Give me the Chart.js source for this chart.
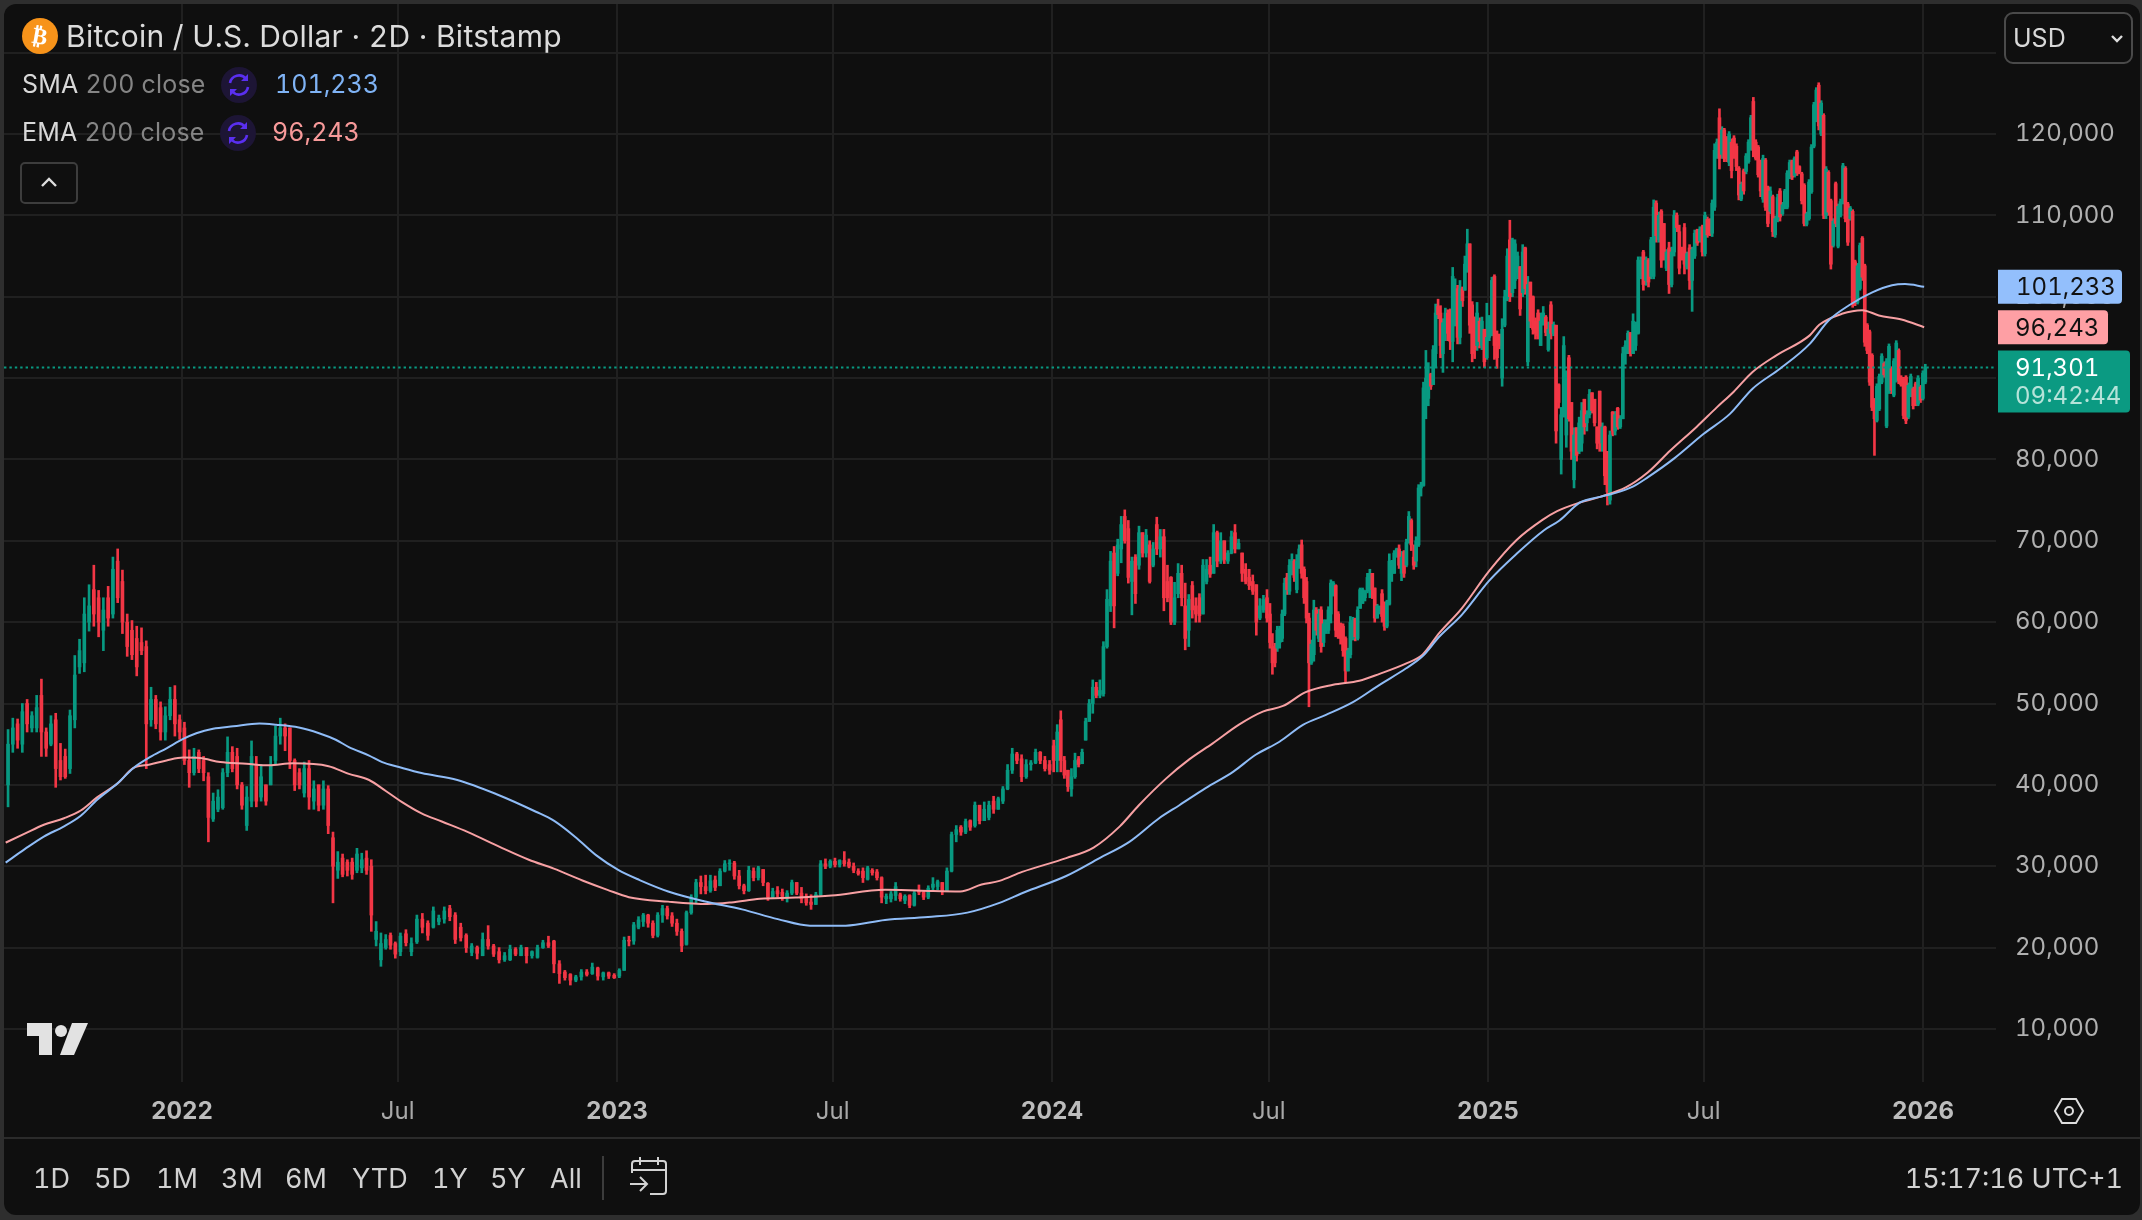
<!DOCTYPE html>
<html>
<head>
<meta charset="utf-8">
<title>Bitcoin / U.S. Dollar</title>
<script src="https://cdn.jsdelivr.net/npm/chart.js@4"></script>
<style>
  html, body { margin: 0; padding: 0; width: 2142px; height: 1220px; overflow: hidden; background: #2e2e2e; font-family: Inter, sans-serif; font-variant-numeric: tabular-nums; }
  #panel { position: absolute; left: 4px; top: 4px; width: 2136px; height: 1211px; background: #0f0f0f; border-radius: 12px; }
  #chart { position: absolute; left: 0; top: 0; }
  .txt { position: absolute; white-space: nowrap; line-height: 1; }
  .title { left: 66px; top: 21px; font-size: 30px; color: #dcdcdc; letter-spacing: 0.27px; }
  .row { left: 22px; font-size: 25px; color: #d8d8d8; letter-spacing: 0.2px; }
  .row span { color: #858585; }
  .val { font-size: 25px; }
  .range { top: 1165px; font-size: 27px; color: #d2d2d2; }
  .ico { position: absolute; }
  #divider { position: absolute; left: 4px; top: 1137px; width: 2136px; height: 2px; background: #2b2b2b; }
  #sep { position: absolute; left: 602px; top: 1156px; width: 2px; height: 44px; background: #3c3c3c; }
</style>
</head>
<body>
<div id="panel"></div>
<canvas id="chart" width="2142" height="1220"></canvas>
<div id="divider"></div>
<div id="sep"></div>

<svg class="ico" style="left:22px;top:18px" width="36" height="36" viewBox="0 0 36 36"><circle cx="18" cy="18" r="18" fill="#f7931a"/><text x="18" y="26" text-anchor="middle" font-family="DejaVu Sans" font-weight="bold" font-size="23" fill="#fff" transform="rotate(10 18 18)">₿</text></svg>
<div class="txt title">Bitcoin / U.S. Dollar · 2D · Bitstamp</div>

<div class="txt row" style="top:72px">SMA <span>200 close</span></div>
<svg class="ico" style="left:221px;top:67px" width="36" height="36" viewBox="0 0 36 36"><circle cx="18" cy="18" r="18" fill="#1d1535"/><path d="M9 16a9 9 0 0 1 16-4M27 20a9 9 0 0 1-16 4" fill="none" stroke="#5a2ff0" stroke-width="2.6"/><path d="M27 7v7h-7zM9 29v-7h7z" fill="#5a2ff0"/></svg>
<div class="txt val" style="left:275px;top:72px;color:#7fb3f5">101,233</div>

<div class="txt row" style="top:120px">EMA <span>200 close</span></div>
<svg class="ico" style="left:220px;top:115px" width="36" height="36" viewBox="0 0 36 36"><circle cx="18" cy="18" r="18" fill="#1d1535"/><path d="M9 16a9 9 0 0 1 16-4M27 20a9 9 0 0 1-16 4" fill="none" stroke="#5a2ff0" stroke-width="2.6"/><path d="M27 7v7h-7zM9 29v-7h7z" fill="#5a2ff0"/></svg>
<div class="txt val" style="left:272px;top:120px;color:#f89a9a">96,243</div>

<svg class="ico" style="left:20px;top:162px" width="58" height="42" viewBox="0 0 58 42"><rect x="1" y="1" width="56" height="40" rx="4" fill="none" stroke="#3d3d3d" stroke-width="2"/><path d="M22 24l7-7 7 7" fill="none" stroke="#ddd" stroke-width="2.4"/></svg>

<svg class="ico" style="left:2004px;top:12px" width="130" height="52" viewBox="0 0 130 52"><rect x="1" y="1" width="127" height="50" rx="8" fill="#0f0f0f" stroke="#4a4a4a" stroke-width="2"/><path d="M108 24l5 5 5-5" fill="none" stroke="#ddd" stroke-width="2.4"/></svg>
<div class="txt" style="left:2013px;top:26px;font-size:25px;color:#d8d8d8">USD</div>

<svg class="ico" style="left:27px;top:1023px" width="61" height="32" viewBox="0 0 61 32"><path d="M0 0h25v32H12V13H0z" fill="#e2e2e2"/><circle cx="34" cy="8" r="6" fill="#e2e2e2"/><path d="M45 0h16L47 32H33z" fill="#e2e2e2"/></svg>
<svg class="ico" style="left:2053px;top:1097px" width="32" height="28" viewBox="0 0 32 28"><path d="M9 2h14l7 12-7 12H9L2 14z" fill="none" stroke="#dedede" stroke-width="2"/><circle cx="16" cy="14" r="4" fill="none" stroke="#dedede" stroke-width="2"/></svg>

<div class="txt range" style="left:33px">1D</div>
<div class="txt range" style="left:94px">5D</div>
<div class="txt range" style="left:156px">1M</div>
<div class="txt range" style="left:221px">3M</div>
<div class="txt range" style="left:285px">6M</div>
<div class="txt range" style="left:352px">YTD</div>
<div class="txt range" style="left:432px">1Y</div>
<div class="txt range" style="left:490px">5Y</div>
<div class="txt range" style="left:550px">All</div>
<svg class="ico" style="left:629px;top:1157px" width="40" height="38" viewBox="0 0 40 38"><path d="M3 16V7q0-3 3-3h28q3 0 3 3v27q0 3-3 3H21M3 13h34M11 0v8M29 0v8M1 27h17M11 20l7 7-7 7" fill="none" stroke="#d2d2d2" stroke-width="2"/></svg>
<div class="txt range" style="right:19px">15:17:16 UTC+1</div>

<script>
// values are in thousands of USD, x values are days since 2022-01-01

// [open, high, low, close], one list per half year
const candles2021H2 = [
  [40,46.8,37.3,45],[45,48.2,44,47],[47.5,48.1,44.5,45.5],[45,50,44,49],[50,50.5,46.5,47.5],[47,49,46.5,48.5],
  [47,51,46.5,49.5],[51,53,43.5,46.5],[46.5,47,43.5,44.5],[45,48.5,44.8,47.5],[48,48.8,39.7,42],[43,45.1,40.6,41],
  [43.5,44.4,40.8,41],[42,49.2,41.4,48.5],[48,55.9,47,53.5],[54.5,57.9,53.7,56.5],[55,63,53.9,61],[60,64.6,58.9,62],
  [64,67,59.5,61],[63,63.9,58.2,60],[59,63,56.5,61.5],[63,64.4,59.5,60.5],[61,68,60.5,66.5],[67.5,69,62.4,63],
  [65,66.4,58.6,60],[60,61,55.8,57],[59,60.2,55.4,56],[58,59.5,53.4,54.5],[57.5,59.3,56,56.5],[57,57.7,42,47.5],
  [48,52,47.2,50.5],[50.5,51,46.9,47.5],[49.5,50.2,45.5,46.5],[46.5,49.6,45.5,48.5],[48.5,52,48,50.5],[50.5,52.2,46,47.5],
  [48,48.6,45.6,46.5]
];
const candles2022H1 = [
  [47,47.7,42.5,43],[43,44.3,39.7,41.5],[41.5,44.5,41.2,43.5],[44,44.3,41.5,42],[43,43.5,40.5,41.5],[41,41.5,33,36],
  [35.8,39,35.5,38],[37,39.4,36.7,38.5],[37.2,42,37,41.5],[41.5,45.9,41,44],[44,44.7,41.6,42],[43.5,44.5,39.5,40],
  [40,40.3,37,37.5],[35,39.8,34.4,38.5],[38,45.4,37.3,43.5],[42.5,43.5,37.3,38],[38.5,42.5,38,41],[40,40,37.5,38],
  [40,43.5,40,42.5],[43,47.2,42.5,46],[46,48.2,45,47],[47,47.5,44.2,46],[47,47,42,43],[43,43.2,39.3,40],
  [41.5,42,39.5,40],[39,42.8,38.5,42],[42,43,37,38.5],[38,40.5,37,39.5],[40,40,36.8,37.5],[37.5,40.5,37,39.5],
  [39.5,39.9,34,35],[33.5,34.2,25.5,30],[29.5,31.8,28.5,30.5],[31,31.5,28.7,29],[30.5,30.8,28.8,29.5],[30.5,31,28.4,29],
  [29.5,32.2,29.2,31.5],[29.8,31.6,29.2,30.8],[31,31.9,29,29.5],[30,30.8,22,24],[21,23.2,20.2,22],[18.5,21.8,17.7,20.5],
  [20,21.6,19.8,21],[21.5,21.8,19.8,20.3],[20.5,20.7,18.7,19.2]
];
const candles2022H2 = [
  [19.5,21.8,19,21.4],[21.7,22.2,20.2,20.6],[19.5,21.2,19,20.5],[20.7,24,20.5,23.5],[23.5,24.2,21.8,22.5],[23,23.3,20.9,21.5],
  [22.5,25,22.4,24.5],[23.2,24,22.8,23.6],[23.5,25,23,24.5],[24.8,25.2,23.3,23.8],[24,24.3,20.5,21],[22.5,23,20.8,21.2],
  [21.5,21.7,19.4,20],[19.4,20.5,19,20.2],[20,20.2,18.6,19.3],[19,21.8,19,21],[21,22.7,19.8,20.2],[20.2,20.4,18.9,19.2],
  [19.5,20,18.1,18.5],[18.5,19.4,18.3,19],[18.5,20.3,18.4,19.8],[19.8,20,19,19.2],[19,20.3,19,20],[20,20,18.1,19],
  [19,19.6,18.7,19.5],[18.8,20.3,18.7,20],[20,20.9,19.9,20.6],[20.6,21.4,20,20.2],[20.8,20.9,16.9,18],[18,18.4,15.6,16.8],
  [17,17.2,16,16.3],[16.7,16.8,15.4,16],[16,16.6,15.8,16.4],[16.4,17.3,16,17],[17,17.3,16.5,16.7],[16.8,18.1,16.7,17.6],
  [17.5,17.6,16,16.5],[16.4,17,16,16.9],[16.9,17,16.2,16.5],[16.6,16.8,16.2,16.3]
];
const candles2023H1 = [
  [16.5,17.4,16.3,17.2],[17.2,21.3,17.2,20.9],[20.9,21.4,20.2,20.8],[20.8,23.1,20.4,22.8],[22.5,23.8,22.3,23.4],[23.2,24.2,22.6,24],
  [24,24.1,22.5,23],[23,23.3,21.2,21.5],[21.5,24.3,21.3,24],[24,25.2,23.1,24.8],[24.8,25.1,23.5,23.9],[23.9,24.3,22.6,23],
  [23,23.5,21.5,22],[22,22.3,19.5,20.2],[20.4,24.5,20.3,24.3],[24.3,26.5,24.1,26.2],[26.2,28.4,25.4,28],[28,28.8,26.6,27.5],
  [27.5,28.9,26.6,27],[27,28.9,26.8,28.2],[28.3,28.8,27,27.4],[27.6,29.7,27.6,29.4],[29.4,30.7,29.3,30.3],[30.3,30.8,29.5,30.4],
  [30.4,30.6,28.4,28.8],[28.8,29.5,27.2,27.6],[27.6,27.8,26.6,27],[27,30,26.9,29.5],[29.4,29.8,28.2,28.6],[28.6,30,28.3,29.8],
  [29.6,29.6,27.6,28],[27.9,28,25.8,26.2],[26.2,27.3,26.1,26.9],[27,27.5,26.2,26.6],[26.8,27.2,25.8,26.3],[26.1,27,25.6,26.7],
  [26.7,28.3,26.5,28],[28,28,26.5,26.7],[26.7,27.4,25.5,26],[26.2,26.6,25.2,25.5],[25.6,26.5,24.7,25.3],[25.3,26.8,25.3,26.5],
  [26.5,30.7,26.4,30.3],[30.3,30.9,29.7,30],[30,30.8,29.8,30.6]
];
const candles2023H2 = [
  [30.6,31,29.9,30.2],[30.2,30.8,29.9,30.7],[30.7,31.8,30,30.3],[30.5,30.9,29.8,30],[30,30.4,29.2,29.5],[29.4,29.7,28.9,29.1],
  [29.4,29.8,28,28.6],[28.4,30,28.3,29.8],[29.5,29.7,28.9,29.2],[29.3,29.6,28.3,28.6],[28.6,28.7,25.5,26.2],[26,26.6,25.4,26.3],
  [26,26.9,25.6,26.6],[26.4,28,25.8,27.5],[26.5,26.7,25.7,26],[25.8,26.5,25.4,26.3],[26.4,26.5,24.9,25.2],[25.2,26.9,25.1,26.7],
  [27,27.7,26.5,26.8],[26.8,27,25.9,26.2],[26.2,27.6,26,27.3],[27.4,28.6,27,27.8],[27.5,28.3,27.1,28.1],[28,28,26.5,26.9],
  [27,29.8,26.9,29.4],[29.4,34.2,29.3,33.9],[33.9,35,33,34.5],[34.8,35,33.8,34.2],[34.2,35.8,34,35.5],[35.6,35.7,34.4,34.8],
  [35,37.9,34.8,37.5],[37.5,37.5,35.2,35.6],[35.6,37.9,35.6,37],[36,38,35.7,37.5],[38,38.6,36.5,37],[37,38.5,37,38.3],
  [38,39.8,37.7,39.5],[39.5,42.5,39.4,41.8],[41.8,44.5,41.4,43.8],[43.8,44,42.6,43],[43.2,43.7,40.4,41],[41,43.1,40.8,42.5],
  [42.5,43,41.8,42.7],[42.7,44.4,42.6,44],[44,44.1,42.6,43],[43,43.5,41.7,42],[42.5,43,41.3,41.8]
];
const candles2024H1 = [
  [44.8,45.5,41.6,43],[43,47.4,41.6,46.5],[48,49.1,41.6,43],[43,43.5,40.8,41.2],[41.8,41.8,39.2,39.8],[39.5,42,38.6,41],
  [41,43.9,40.8,43],[43.2,43.5,42.2,42.5],[42.6,44.4,42.6,44],[45.5,48.2,45.5,47.8],[47.8,50.5,47.8,50],[50,52.9,48.8,52],
  [52,52.6,50.7,51],[51,52.9,50.7,51.6],[51.2,57.6,50.9,57],[57,64,56.8,62.8],[62,68.7,61.3,67.5],[68.5,69.3,59.3,62],
  [66,70.2,65.7,69.5],[69,73,67.3,72],[73,73.8,69.7,70],[71.5,72.5,64.8,65.5],[65,68,60.9,67.5],[68,68.3,62.3,63.5],
  [67,71.8,66.5,71],[71,71,68,68.5],[68.5,71.4,68,70.7],[69.5,70,64.8,65],[67,69.8,66.8,69],[72,72.9,68.3,69],
  [69,71.4,68,70.5],[70.5,71.4,61.4,63],[65,67,62.5,63],[65.5,65.6,59.7,60],[60,64.9,59.7,63],[63.5,67.2,63,66],
  [66,67,62,63],[62,64.8,56.6,58],[59,63.4,57,62.8],[64.5,65,60.5,61.5],[62,63,60,61],[63,63.5,60,60.8],
  [61,67.7,61,67],[65,67.7,64.7,66.5],[67,68,65.5,65.9],[66,72,66,71],[71,71.2,66.8,67.5],[67.5,71,67.2,70],
  [70,70,67.2,67.7],[67.5,68.8,67.2,68.5],[68.5,71.2,68.4,70.5],[71,72,68.5,69],[69,70.2,69,69.7],[68.5,68.5,65,66],
  [66.5,67.2,64.7,65],[65.5,66.5,64,64.5],[65,65.8,63.4,63.8],[64.6,64.6,58.4,60],[60.5,62.9,60.3,62],[61.5,63.3,61.2,62.8],
  [63,64,60,60.5]
];
const candles2024H2 = [
  [61,62.3,56.8,57.5],[57,58.6,53.6,55],[57,57.4,54.5,55],[56.8,59.5,56.4,59],[57.5,59.5,56.8,59.2],[58,61.5,57.6,61],
  [61,65.4,60.8,64.8],[65.5,66,63.4,64],[63.8,67.7,63.4,67],[66,68.4,65.8,67.5],[67.5,67.7,65,65.5],[64,68.3,63.6,67.5],
  [67,69.5,66.6,69],[69.5,70.1,65.4,66],[66.5,66.8,62.3,63],[65,65.5,59.9,60.5],[60.5,61.1,49.6,55],[55,57.8,54.8,57.3],
  [56,62.7,55.2,61.5],[61.5,61.8,58.4,59],[58,61.6,57.6,61],[61.5,61.9,56.3,57],[57.5,60.3,57,59.8],[59,60.3,58.6,60],
  [59,61.9,58.6,61.5],[61,65.2,59.9,64.8],[63.3,65,63.2,64.8],[64.5,64.6,58.2,59],[61,61.3,58,58.5],[59.8,59.9,57.3,58],
  [59.5,59.8,55.8,56.5],[58,58.2,52.6,54],[54,56.8,54,56.5],[56,60.7,55.6,60],[58,60.6,57.8,60.2],[60.4,60.5,57.7,58.2],
  [58,61.9,57.8,61.5],[61.7,64.2,61.7,64],[62.3,64.2,62.3,64],[63,63.9,62.6,63.6],[63.8,66,63.6,65.5],[64,66.5,63,66],
  [66,66,62.9,64],[64.2,64.2,60,60.5],[60.5,62.2,60.5,62],[61.3,62,61,61.8],[63.5,64,60,60.7],[62,62.5,59,59.5],
  [59.5,62.7,59.3,62.5],[62.2,68.4,62.1,67.5],[66,67.6,65,67],[66,68.8,66,68.5],[68,69.1,68,69],[69,69.5,66.6,67],
  [66,68.7,65.1,68],[68.6,68.8,65.5,66],[67,70.2,66.8,69.8],[69.8,73.6,69.7,73],[72.5,72.7,68.8,69.5],[68,69.5,66.5,67],
  [67.5,70.5,66.8,70],[69.5,76.9,69.3,76.5],[76.5,77.2,75.5,76.8],[76.8,89.5,76.7,88.8],[88.5,93.4,85,90],[87.5,91.9,86.6,90.5],
  [90.5,90.6,88.6,89],[89.2,94,89.2,93.5],[93,99.1,91.3,98],[98.8,99.7,97.3,97.8],[98,98.9,92.5,94],[93,97.3,90.7,96.8],
  [96,98.6,94.6,98],[98,98.4,94.6,95.5],[98,98.5,93.5,94.5],[94.5,103.6,92,102.5],[98,102.2,96.4,100],[101,101.4,94.2,95],
  [95,102,94.2,101],[101,101.2,98.8,99.5],[100.8,105,100.8,104],[103.5,108.3,103,106.5],[106.5,106.5,95.5,96.5],[99,99.4,92,93],
  [97.5,97.5,92.4,93.5],[94,99.3,93.4,98],[97,97.4,93.7,94.5],[94,97.5,93.5,97],[96,96,91.3,92],[92.5,99.2,92.3,95]
];
const candles2025H1 = [
  [95,97.7,94.6,97.5],[95.5,102.4,95.2,102],[102.5,102.7,92.3,94],[94.5,95.8,91.2,92.5],[95.4,95.4,93.6,94],[90,97.3,89,96],
  [96.5,100.8,96.3,100],[99.8,105.9,99.5,105],[107,109.4,99.4,100],[100.5,107.2,100,107],[102,107,101,106.5],[103,105.5,102.2,105],
  [103.7,103.7,97.7,98.5],[100.5,106.4,100,105.5],[106,106.1,100.3,101],[92,102.5,91.5,101.5],[101.8,101.8,96.2,97],[100,100.1,95.4,96],
  [97,97.4,94.8,95.5],[98,98.4,94.8,95.2],[94,98,94,97],[96.6,98.8,96.5,98],[97.5,97.7,95.2,95.6],[93.5,96.9,93.3,96],
  [99,99.4,94.8,95.5],[95.5,96.9,95.2,96.6],[96.5,96.5,82,83.5],[89.2,89.3,86.3,87],[80,86.4,78.2,85.5],[85.5,95.1,85.2,94],
  [83,90.9,81.5,90],[92.5,92.8,84.7,85],[87,87,80,81],[77.5,83.9,76.5,83],[83.9,83.9,79.8,80.5],[81,85.2,80.7,84.5],
  [82,87,81,86],[87.4,87.4,83.1,84],[84.5,86,83.5,85.5],[85.5,88.6,85.1,88],[88.2,88.2,85.7,86],[87.4,87.4,84.1,84.5],
  [84,84,81.3,82],[88.4,88.4,81,82],[82,84.5,81,84],[84,84.1,76.9,78],[81,81,74.4,76],[75,83.5,74.5,83],
  [85.8,85.9,82.9,83.5],[83.5,85.9,83,85.5],[86.3,86.4,83.7,84],[84,85.4,83.8,85],[85,93.8,85,93],[93,94.6,91.7,94],
  [93.5,95.8,93,95.5],[95.6,95.6,92.7,93],[93,97.9,93,97],[94,96.9,93.4,96.5],[95.5,104.9,95.4,104.5],[102.5,104.9,102.2,104.5],
  [105.5,105.7,100.8,101.5],[102,104.9,101.4,104.5],[104.5,104.7,101.2,101.8],[102.5,107.3,102.2,107],
  [102.5,111.9,102.2,111],[111.5,111.8,106.7,107.5],[107,110.4,106.7,110],[110.5,110.7,103.6,104.5],[109,109,104.5,105],[103.5,105.8,103.2,105.5],
  [106,106.7,100.4,101.5],[101.5,106.1,101.2,105.5],[105.5,110.6,105,110],[110,110.3,108,108.5],[108,108.8,102.8,103.5],[106,106.1,104.5,105],
  [108.5,109,102.8,104],[103.7,105.5,103.4,105.3],[106,106.4,100.9,102],[102,106.1,98.2,105.8],[105,108.2,104.7,107.8],[108.2,108.3,106.3,106.6],
  [106.9,108.6,106.7,108.3],[108.6,108.8,105,105.5]
];
const candles2025H2 = [
  [105.3,110.4,105,110],[109.5,109.8,107.3,107.6],[109.5,109.6,107.5,108],[107.8,111.9,107.4,111.5],[111,118.8,110.6,118],[117.3,119.4,117,119],
  [122,123.1,115.7,117],[117.5,120.9,117,120.5],[120.5,120.7,116.6,117],[119.5,119.7,116.6,117],[116.5,120.3,116.1,120],[119,119.4,114.6,115.5],
  [119.5,119.8,117,117.5],[118.5,118.8,115.5,116],[115.8,116,111.9,112.5],[112,114.1,111.8,113.8],[115.5,115.7,112.6,113],[115.4,117.6,115.1,117.3],
  [116.6,119.3,116.4,119],[118.2,122.3,118,122],[124,124.5,117.2,118],[119,119.3,116.8,117],[118.4,118.6,114.7,115],[116.5,116.8,112.3,113],
  [112,117.4,111.6,117],[116.8,117,110.6,111],[113.4,113.6,108.6,109],[110.5,113.5,110.2,113],[112.3,112.5,107.4,108],[107.6,109.9,107.3,109.6],
  [109.5,112.6,109.2,112.2],[113,113.3,109.3,109.8],[110.2,111.6,110,111.3],[111,113.2,110.8,113],[111,115.5,110.8,115.2],[114.7,116.8,114.5,116.5],
  [116.6,116.8,114.4,114.7],[114.9,117.2,114.7,117],[117.8,118,114.9,115.2],[116,116.1,115.1,115.3],[115.1,115.3,111.4,111.8],[113.7,113.9,108.7,109],
  [108.9,110.4,108.7,110.2],[109.6,114.4,109.4,114.1],[112.9,118.7,112.7,118.4],[118.5,123.9,118.3,123.6],[121.7,125.7,121.5,125.4],[126,126.3,120.5,121],
  [120,124.1,119.8,123.8],[122.3,122.5,109.6,110],[110,116,109.6,115.7],[115.3,115.5,110,110.4],[111.8,112,103.4,104],[106.3,109.6,106.1,109.3],
  [113.9,114.1,108.6,109],[106.2,111.4,106,111.1],[110,112,109.8,111.7],[111.6,116.4,111.4,116.1],[115.8,116,109.2,109.6],[111.4,111.6,106.3,106.7],
  [109.6,111.1,109.4,110.9],[110.5,110.7,98.7,99.2],[104.3,104.5,98.9,99.2],[99.3,104.1,99.1,103.8],[101,106.6,100.8,106.3],[107.2,107.4,102,102.4],
  [103.8,104,93.9,94.4],[96.5,96.7,93,93.4],[95.7,95.9,89.1,89.5],[92.8,93,86,86.4],[87.3,87.5,80.5,85],[84.8,89.3,84.6,89],
  [86.2,90.5,86,90.2],[89.5,93,89.3,92.7],[91.8,92,90.1,90.4],[84.1,92.4,83.9,92.1],[88.3,94.2,88.1,93.9],[91.2,91.4,88.1,88.5],
  [87.9,92.4,87.7,92.1],[89.7,94.6,89.5,94.3],[93.4,93.6,89.3,89.7],[90.1,90.3,89,89.2],[89.9,90.1,85,85.4],[90.1,90.3,84.4,84.8],
  [85.2,89.4,85,89.1],[87.9,90.5,87.7,90.2],[88.7,88.9,86.2,86.6],[89.3,89.5,86.6,87],[86.8,90.3,86.6,90],[88.9,89.1,87,87.3],
  [87.5,90.9,87.3,90.6],[89.5,91.7,89.3,91.301]
];
// first and last day covered by each list above
const candleSegments = [
  [candles2021H2, -148, 0], [candles2022H1, 0, 181], [candles2022H2, 181, 365],
  [candles2023H1, 365, 546], [candles2023H2, 546, 730], [candles2024H1, 730, 912],
  [candles2024H2, 912, 1096], [candles2025H1, 1096, 1277], [candles2025H2, 1277, 1464]
];

const smaDays = [-148,-132,-116,-99,-85,-71,-54,-41,-27,-13,1,12,26,43,65,79,98,115,129,140,157,168,182,201,231,264,297,312,330,348,366,384,408,438,470,500,527,557,590,626,659,686,707,742,770,795,820,837,859,882,901,921,941,960,983,1005,1027,1041,1055,1074,1097,1120,1143,1156,1173,1190,1201,1218,1230,1252,1277,1299,1318,1341,1366,1382,1399,1418,1435,1446,1462];
const smaValues = [30.45,32.1,33.65,34.9,36.2,38.2,40.2,42.05,43.4,44.5,45.65,46.35,46.9,47.2,47.55,47.4,47.05,46.35,45.55,44.65,43.6,42.8,42.2,41.45,40.6,38.85,36.7,35.6,33.6,31.3,29.55,28.3,26.9,25.7,24.7,23.5,22.7,22.7,23.4,23.75,24.3,25.5,26.8,28.8,31,33,35.9,37.5,39.6,41.6,43.7,45.3,47.4,48.6,50.2,52.3,54.3,55.8,58.2,60.9,65.1,68.4,71.3,72.5,74.7,75.4,75.8,76.7,77.8,80.1,83.15,85.6,88.7,91.15,94.2,97.1,98.95,100.5,101.4,101.55,101.233];
const emaDays = [-148,-132,-116,-99,-85,-71,-54,-41,-27,-13,1,15,32,54,73,93,123,140,157,171,184,201,218,240,267,291,312,336,357,375,408,441,461,485,515,545,590,620,653,671,686,705,742,765,787,803,826,845,865,887,907,924,943,966,988,1005,1027,1041,1055,1074,1097,1120,1142,1154,1173,1190,1212,1230,1249,1271,1288,1302,1318,1338,1366,1374,1393,1410,1424,1443,1462];
const emaValues = [32.9,34,35.1,35.9,36.85,38.5,40.2,42.05,42.5,43,43.35,43.3,42.8,42.6,42.4,42.65,42.3,41.35,40.6,39.25,37.95,36.5,35.5,34.2,32.35,30.8,29.7,28.25,27.1,26.2,25.65,25.35,25.55,26,26.15,26.4,27.1,27,26.9,27.75,28.2,29.3,31,32.3,34.9,37.5,40.8,43.1,45.1,47.4,49,49.7,51.4,52.3,52.8,53.65,54.9,56,58.65,61.7,66.3,70.1,72.6,73.65,74.7,75.4,76.6,78.4,81.1,84,86.4,88.3,90.75,92.8,95.25,96.55,97.9,98.35,97.7,97.2,96.243];

const xTickDays = [0,181,365,546,730,912,1096,1277,1461];
const xTickLabels = ['2022','Jul','2023','Jul','2024','Jul','2025','Jul','2026'];
const yTickValues = [10,20,30,40,50,60,70,80,90,100,110,120,130];
const yTickHidden = [130];
const lastPrice = 91.301;
const smaLast = 101.233;
const emaLast = 96.243;

const UP = '#089981';
const DOWN = '#f23645';
const SMA_COLOR = '#8fbcf7';
const EMA_COLOR = '#f7a0a3';
const GRID = '#202020';

const candleDays = [], opens = [], highs = [], lows = [], closes = [];
candleSegments.forEach(([rows, from, to]) => {
    const step = (to - from) / rows.length;
    rows.forEach((r, i) => {
        candleDays.push(from + (i + 0.5) * step);
        opens.push(r[0]); highs.push(r[1]); lows.push(r[2]); closes.push(r[3]);
    });
});
const candleColors = closes.map((c, i) => c >= opens[i] ? UP : DOWN);

const fmt = v => Math.round(v * 1000).toLocaleString('en-US');

// price tags on the right, placed from the y scale
const priceTags = {
    id: 'priceTags',
    afterDraw(chart) {
        const c = chart.ctx, y = chart.scales.y;
        const tag = (x, top, w, h, fill) => {
            c.fillStyle = fill;
            c.beginPath();
            c.roundRect(x, top, w, h, [0, 4, 4, 0]);
            c.fill();
        };
        c.save();
        c.font = '24px Inter';
        c.textAlign = 'left';
        c.textBaseline = 'middle';
        const ySma = y.getPixelForValue(smaLast), yEma = y.getPixelForValue(emaLast), yLast = y.getPixelForValue(lastPrice);
        tag(1998, ySma - 17, 124, 34, '#93bffc');
        c.fillStyle = '#111';
        c.fillText(fmt(smaLast), 2016, ySma + 1);
        tag(1998, yEma - 17, 110, 34, '#fe9fa4');
        c.fillStyle = '#111';
        c.fillText(fmt(emaLast), 2015, yEma + 1);
        tag(1998, yLast - 17, 132, 62, '#0b9a82');
        c.fillStyle = '#fff';
        c.fillText(fmt(lastPrice), 2015, yLast + 1);
        c.fillStyle = '#b5e3d9';
        c.fillText('09:42:44', 2015, yLast + 29);
        c.restore();
    }
};

new Chart(document.getElementById('chart'), {
    type: 'bar',
    data: {
        datasets: [
            {
                data: candleDays.map((d, i) => ({ x: d, y: [lows[i], highs[i]] })),
                backgroundColor: candleColors,
                barThickness: 2,
                grouped: false,
                order: 5
            },
            {
                data: candleDays.map((d, i) => ({ x: d, y: [Math.min(opens[i], closes[i]), Math.max(opens[i], closes[i])] })),
                backgroundColor: candleColors,
                barThickness: 3,
                grouped: false,
                order: 4
            },
            {
                type: 'line',
                data: [{ x: -149.4, y: lastPrice }, { x: 1522.3, y: lastPrice }],
                borderColor: UP,
                borderWidth: 2,
                borderDash: [2.4, 3],
                pointRadius: 0,
                order: 3
            },
            {
                type: 'line',
                data: emaDays.map((d, i) => ({ x: d, y: emaValues[i] })),
                borderColor: EMA_COLOR,
                borderWidth: 2,
                pointRadius: 0,
                cubicInterpolationMode: 'monotone',
                order: 2
            },
            {
                type: 'line',
                data: smaDays.map((d, i) => ({ x: d, y: smaValues[i] })),
                borderColor: SMA_COLOR,
                borderWidth: 2,
                pointRadius: 0,
                cubicInterpolationMode: 'monotone',
                order: 1
            }
        ]
    },
    options: {
        responsive: false,
        devicePixelRatio: 1,
        animation: false,
        events: [],
        layout: { padding: { left: 4, top: 4 } },
        plugins: { legend: { display: false }, tooltip: { enabled: false } },
        scales: {
            x: {
                type: 'linear',
                offset: false,
                min: -149.4,
                max: 1522.3,
                border: { display: false },
                grid: { color: GRID, lineWidth: 2, drawTicks: false, offset: false },
                afterBuildTicks: scale => { scale.ticks = xTickDays.map(v => ({ value: v })); },
                afterFit: scale => { scale.height = 138; scale.paddingLeft = 0; scale.paddingRight = 0; },
                ticks: {
                    autoSkip: false,
                    maxRotation: 0,
                    padding: 15,
                    color: ctx => ctx.index % 2 === 0 ? '#bcbcbc' : '#a8a8a8',
                    font: ctx => ({ family: 'Inter', size: 24, weight: ctx.index % 2 === 0 ? 'bold' : 'normal' }),
                    callback: (value, i) => xTickLabels[i]
                }
            },
            y: {
                position: 'right',
                min: 3.48,
                max: 135.98,
                border: { display: false },
                grid: { color: GRID, lineWidth: 2, drawTicks: false },
                afterBuildTicks: scale => { scale.ticks = yTickValues.map(v => ({ value: v })); },
                afterFit: scale => { scale.width = 146; scale.paddingTop = 0; scale.paddingBottom = 0; },
                ticks: {
                    autoSkip: false,
                    padding: 19,
                    crossAlign: 'near',
                    color: '#b0b0b0',
                    font: { family: 'Inter', size: 24 },
                    callback: value => yTickHidden.includes(value) ? '' : fmt(value)
                }
            }
        }
    },
    plugins: [priceTags]
});
</script>
</body>
</html>
